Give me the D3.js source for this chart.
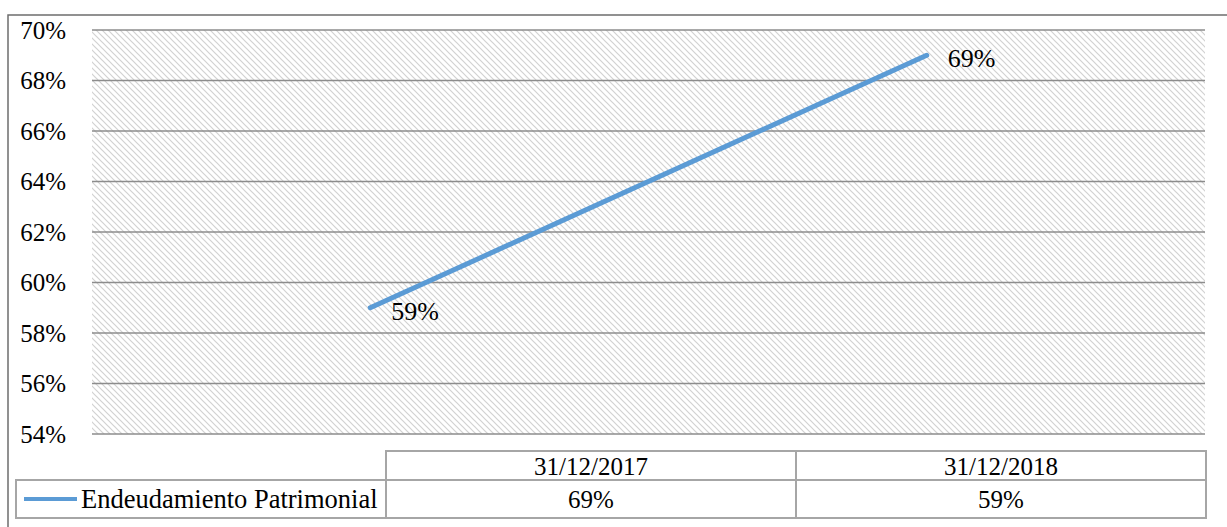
<!DOCTYPE html>
<html>
<head>
<meta charset="utf-8">
<script src="https://cdn.jsdelivr.net/npm/d3@7"></script>
</head>
<body style="margin:0">
<svg id="chart" width="1227" height="527" style="display:block;font-family:Liberation Serif"></svg>
<script>
const categories = ["31/12/2017", "31/12/2018"];
const seriesName = "Endeudamiento Patrimonial";
const seriesValues = [69, 59];
const yTicks = [54, 56, 58, 60, 62, 64, 66, 68, 70];

const FONT = "Liberation Serif";
const svg = d3.select("#chart");
const W = 1227, H = 527;
const plot = { left: 92, right: 1205, top: 30, bottom: 434 };
const table = { left: 386, right: 1206, top: 451, mid: 480, bottom: 518, legendLeft: 16 };
const FS = 25;

const defs = svg.append("defs");
const pat = defs.append("pattern")
  .attr("id", "hatch").attr("patternUnits", "userSpaceOnUse")
  .attr("width", 6).attr("height", 6);
pat.append("rect").attr("width", 6).attr("height", 6).attr("fill", "#fff");
pat.append("path").attr("d", "M-1,-1 L7,7 M-1,5 L1,7 M5,-1 L7,1")
  .attr("stroke", "#d2d2d2").attr("stroke-width", 1.2);

// outer border (extends beyond the frame on right/bottom)
svg.append("path").attr("d", `M8,${H+2} L8,15 L${W+2},15`)
  .attr("fill", "none").attr("stroke", "#6e6e6e").attr("stroke-width", 1.5);

const y = d3.scaleLinear().domain([54, 70]).range([plot.bottom, plot.top]);
// line categories drawn in reversed order across the plot area
const x = d3.scalePoint().domain(categories).range([plot.right, plot.left]).padding(0.5);

svg.append("rect").attr("x", plot.left).attr("y", plot.top)
  .attr("width", plot.right - plot.left).attr("height", plot.bottom - plot.top)
  .attr("fill", "url(#hatch)");

// gridlines
svg.append("g").selectAll("line").data(yTicks).join("line")
  .attr("x1", plot.left).attr("x2", plot.right)
  .attr("y1", d => y(d)).attr("y2", d => y(d))
  .attr("stroke", "#8c8c8c").attr("stroke-width", 1.5);

// y axis labels
const yAxis = d3.axisLeft(y).tickValues(yTicks).tickFormat(d => d + "%").tickSize(0).tickPadding(0);
const gy = svg.append("g").attr("transform", "translate(66,0)").call(yAxis);
gy.attr("font-family", null).attr("font-size", null);
gy.select(".domain").remove();
gy.selectAll("text").style("font-family", FONT).attr("font-size", FS).attr("fill", "#000").attr("dy", "0.32em");

// series line
const data = categories.map((c, i) => ({ c, v: seriesValues[i] }));
svg.append("path").datum(data)
  .attr("d", d3.line().x(d => x(d.c)).y(d => y(d.v)))
  .attr("fill", "none").attr("stroke", "#5B9BD5").attr("stroke-width", 5).attr("stroke-linecap", "round");

// data labels
svg.append("g").selectAll("text").data(data).join("text")
  .style("font-family", FONT).attr("font-size", 26)
  .attr("x", d => x(d.c) + 21).attr("y", d => y(d.v) + 3)
  .attr("dy", "0.35em")
  .text(d => d.v + "%");

// data table
const tx = d3.scaleBand().domain(categories).range([table.left, table.right]);
const tcol = "#a6a6a6";
const tg = svg.append("g");
tg.append("rect").attr("x", table.left).attr("y", table.top)
  .attr("width", table.right - table.left).attr("height", table.bottom - table.top)
  .attr("fill", "none").attr("stroke", tcol).attr("stroke-width", 2);
tg.append("rect").attr("x", table.legendLeft).attr("y", table.mid)
  .attr("width", table.left - table.legendLeft).attr("height", table.bottom - table.mid)
  .attr("fill", "none").attr("stroke", tcol).attr("stroke-width", 2);
tg.append("line").attr("x1", table.left).attr("x2", table.right)
  .attr("y1", table.mid).attr("y2", table.mid).attr("stroke", tcol).attr("stroke-width", 2);
tg.selectAll("line.col").data(categories.slice(1)).join("line").attr("class", "col")
  .attr("x1", d => tx(d)).attr("x2", d => tx(d))
  .attr("y1", table.top).attr("y2", table.bottom).attr("stroke", tcol).attr("stroke-width", 2);
tg.selectAll("text.head").data(categories).join("text").attr("class", "head")
  .style("font-family", FONT).attr("font-size", FS)
  .attr("x", d => tx(d) + tx.bandwidth() / 2).attr("y", (table.top + table.mid) / 2 + 1)
  .attr("dy", "0.35em").attr("text-anchor", "middle")
  .text(d => d);
tg.selectAll("text.val").data(data).join("text").attr("class", "val")
  .style("font-family", FONT).attr("font-size", FS)
  .attr("x", d => tx(d.c) + tx.bandwidth() / 2).attr("y", (table.mid + table.bottom) / 2)
  .attr("dy", "0.35em").attr("text-anchor", "middle")
  .text(d => d.v + "%");
// legend key
tg.append("line").attr("x1", 24).attr("x2", 77)
  .attr("y1", (table.mid + table.bottom) / 2).attr("y2", (table.mid + table.bottom) / 2)
  .attr("stroke", "#5B9BD5").attr("stroke-width", 4);
tg.append("text").style("font-family", FONT).attr("font-size", 26.5)
  .attr("x", 81).attr("y", (table.mid + table.bottom) / 2)
  .attr("dy", "0.35em").text(seriesName);
</script>
</body>
</html>
